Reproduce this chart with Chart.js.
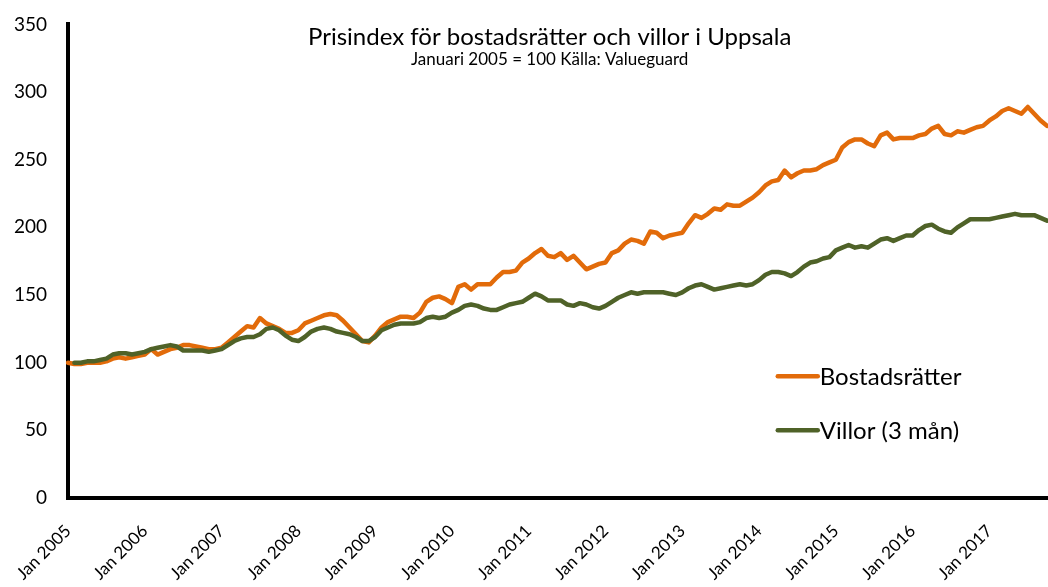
<!DOCTYPE html>
<html>
<head>
<meta charset="utf-8">
<title>Prisindex Uppsala</title>
<script src="https://cdn.jsdelivr.net/npm/chart.js@4"></script>
<style>
  html, body { margin: 0; padding: 0; background: #fff; }
  #wrap { width: 1048px; height: 587px; position: relative; }
</style>
</head>
<body>
<div id="wrap"><canvas id="prisChart"></canvas></div>
<script>
// Chart texts
const titleText = 'Prisindex för bostadsrätter och villor i Uppsala';
const subtitleText = 'Januari 2005 = 100 Källa: Valueguard';

// Categories: monthly, Jan 2005 .. Oct 2017
const monthNames = ['Jan', 'Feb', 'Mar', 'Apr', 'Maj', 'Jun', 'Jul', 'Aug', 'Sep', 'Okt', 'Nov', 'Dec'];
const years = [2005, 2006, 2007, 2008, 2009, 2010, 2011, 2012, 2013, 2014, 2015, 2016, 2017];
const lastMonth = 10; // data ends in Oct 2017

// Y axis ticks
const yTicks = [0, 50, 100, 150, 200, 250, 300, 350];

// Bostadsrätter (monthly index, Jan 2005 = 100)
const bostadsratter = [
  100, 99, 99, 100, 100, 100, 101, 103, 104, 103, 104, 105,
  106, 110, 106, 108, 110, 111, 113, 113, 112, 111, 110, 110,
  111, 115, 119, 123, 127, 126, 133, 129, 127, 125, 122, 122,
  124, 129, 131, 133, 135, 136, 135, 131, 126, 121, 116, 115,
  120, 126, 130, 132, 134, 134, 133, 137, 145, 148, 149, 147,
  144, 156, 158, 154, 158, 158, 158, 163, 167, 167, 168, 174,
  177, 181, 184, 179, 178, 181, 176, 179, 174, 169, 171, 173,
  174, 181, 183, 188, 191, 190, 188, 197, 196, 192, 194, 195,
  196, 203, 209, 207, 210, 214, 213, 217, 216, 216, 219, 222,
  226, 231, 234, 235, 242, 237, 240, 242, 242, 243, 246, 248,
  250, 259, 263, 265, 265, 262, 260, 268, 270, 265, 266, 266,
  266, 268, 269, 273, 275, 269, 268, 271, 270, 272, 274, 275,
  279, 282, 286, 288, 286, 284, 289, 284, 279, 275
];

// Villor, 3 months rolling (starts Feb 2005)
const villor = [
  null, 100, 100, 101, 101, 102, 103, 106, 107, 107, 106, 107,
  108, 110, 111, 112, 113, 112, 109, 109, 109, 109, 108, 109,
  110, 113, 116, 118, 119, 119, 121, 125, 126, 124, 120, 117,
  116, 119, 123, 125, 126, 125, 123, 122, 121, 119, 116, 116,
  119, 124, 126, 128, 129, 129, 129, 130, 133, 134, 133, 134,
  137, 139, 142, 143, 142, 140, 139, 139, 141, 143, 144, 145,
  148, 151, 149, 146, 146, 146, 143, 142, 144, 143, 141, 140,
  142, 145, 148, 150, 152, 151, 152, 152, 152, 152, 151, 150,
  152, 155, 157, 158, 156, 154, 155, 156, 157, 158, 157, 158,
  161, 165, 167, 167, 166, 164, 167, 171, 174, 175, 177, 178,
  183, 185, 187, 185, 186, 185, 188, 191, 192, 190, 192, 194,
  194, 198, 201, 202, 199, 197, 196, 200, 203, 206, 206, 206,
  206, 207, 208, 209, 210, 209, 209, 209, 207, 205
];

const labels = [];
years.forEach((y) => {
  monthNames.forEach((m, i) => {
    if (y === years[years.length - 1] && i >= lastMonth) return;
    labels.push(m + ' ' + y);
  });
});

const fontFamily = 'Lato, "Open Sans", sans-serif';

/**
 * Title, subtitle and the legend are drawn inside the plot area,
 * like in the original spreadsheet chart.
 */
const insideTexts = {
  id: 'insideTexts',
  afterDraw(chart) {
    const { ctx, chartArea } = chart;
    const cx = chartArea.left + (chartArea.right - chartArea.left) * 0.492;
    ctx.save();
    ctx.fillStyle = '#000';
    ctx.textAlign = 'center';
    ctx.textBaseline = 'middle';
    ctx.font = '24px ' + fontFamily;
    ctx.fillText(titleText, cx, 37);
    ctx.font = '17px ' + fontFamily;
    ctx.fillText(subtitleText, cx, 60);

    // legend
    const lx = chartArea.left + (chartArea.right - chartArea.left) * 0.725;
    const rows = [0.743, 0.857];
    chart.data.datasets.slice().reverse().forEach((ds, i) => {
      const ly = chartArea.top + (chartArea.bottom - chartArea.top) * rows[i];
      ctx.strokeStyle = ds.borderColor;
      ctx.lineWidth = 4.5;
      ctx.lineCap = 'round';
      ctx.beginPath();
      ctx.moveTo(lx, ly);
      ctx.lineTo(lx + 40, ly);
      ctx.stroke();
      ctx.font = '24px ' + fontFamily;
      ctx.textAlign = 'left';
      ctx.fillText(ds.label, lx + 42, ly + 1);
    });
    ctx.restore();
  },
};

new Chart(document.getElementById('prisChart'), {
  type: 'line',
  data: {
    labels: labels,
    datasets: [
      {
        label: 'Villor (3 mån)',
        data: villor,
        borderColor: '#4F6228',
        order: 0,
      },
      {
        label: 'Bostadsrätter',
        data: bostadsratter,
        borderColor: '#E26B0A',
        order: 1,
      },
    ],
  },
  options: {
    animation: false,
    responsive: true,
    maintainAspectRatio: false,
    layout: {
      padding: { top: 23, right: 1, left: 0, bottom: 0 },
    },
    elements: {
      point: { radius: 0 },
      line: {
        tension: 0,
        borderWidth: 4.5,
        borderJoinStyle: 'round',
        borderCapStyle: 'round',
        fill: false,
      },
    },
    plugins: {
      legend: { display: false },
      title: { display: false },
      tooltip: { enabled: false },
    },
    scales: {
      x: {
        offset: false,
        grid: { display: false },
        border: { display: true, color: '#000', width: 4 },
        ticks: {
          autoSkip: false,
          maxRotation: 45,
          minRotation: 45,
          padding: 15,
          color: '#000',
          font: { family: fontFamily, size: 17 },
          callback: function (value, index) {
            return index % 12 === 0 ? labels[index] : '';
          },
        },
        afterFit: (scale) => {
          scale.height = 89;
          scale.paddingRight = 0;
        },
      },
      y: {
        min: 0,
        max: 350,
        grid: { display: false },
        border: { display: true, color: '#000', width: 4 },
        afterBuildTicks: (scale) => {
          scale.ticks = yTicks.map((v) => ({ value: v }));
        },
        ticks: {
          padding: 13,
          color: '#000',
          font: { family: fontFamily, size: 19 },
        },
        afterFit: (scale) => { scale.width = 68; },
      },
    },
  },
  plugins: [insideTexts],
});
</script>
</body>
</html>
